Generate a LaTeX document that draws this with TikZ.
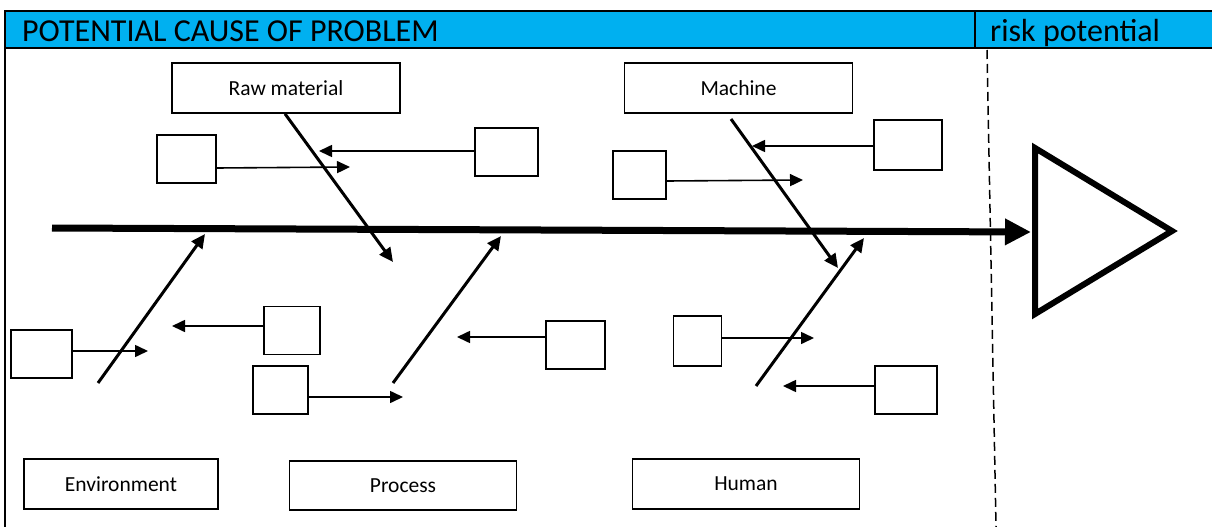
\documentclass[tikz,border=0pt]{standalone}
\usepackage{fontspec}
\setmainfont{Carlito}
\usetikzlibrary{arrows.meta}
\definecolor{hdr}{HTML}{00B0F0}
\begin{document}
\begin{tikzpicture}[x=1pt,y=-1pt,
  cat/.style={draw, line width=1.6pt, minimum width=228pt, minimum height=50pt, inner sep=0pt, font=\fontsize{21.5}{24}\selectfont},
  cause/.style={draw, line width=1.6pt, inner sep=0pt},
  sub/.style={line width=1.6pt, -{Triangle[length=13pt,width=12pt]}},
  bone/.style={line width=3pt, -{Triangle[length=14pt,width=13pt]}},
  htext/.style={anchor=base west, inner sep=0pt, font=\fontsize{32}{34}\selectfont}
]
\useasboundingbox (0,0) rectangle (1212,527);
% header
\fill[hdr] (5,11) rectangle (1212,48);
\draw[line width=2pt] (1212,11) -- (5,11) -- (5,527);
\draw[line width=2pt] (5,48) -- (1212,48);
\draw[line width=1.5pt] (975,11) -- (975,48);
\node[htext] (title) at (22,42) {POTENTIAL CAUSE OF PROBLEM};
\node[htext] (risk) at (990,42) {risk potential};
% dashed separator
\coordinate (dtop) at (987,50);
\coordinate (dbot) at (996,527);
\draw[line width=1.5pt, dash pattern=on 9pt off 5pt] (dtop) -- (dbot);
% category boxes
\node[cat] (raw) at (286,88) {Raw material};
\node[cat] (mach) at (738.5,88) {Machine};
\node[cat, minimum width=194pt] (env) at (121,484) {Environment};
\node[cat, minimum width=227pt, minimum height=49pt] (proc) at (403,485.5) {Process};
\node[cat, minimum width=227pt] (hum) at (746,484) {Human};
% spine and head
\coordinate (tail) at (52,228);
\coordinate (head) at (1031,232);
\draw[line width=7pt, -{Triangle[length=26pt,width=25pt]}] (tail) -- (head);
\draw[line width=6pt, line join=miter] (1035,148) -- (1172,231) -- (1035,314) -- cycle;
% bones
\coordinate (rawend) at (393,262);
\coordinate (machstart) at (731,119);
\coordinate (machend) at (838,268);
\coordinate (envstart) at (98,383);
\coordinate (envend) at (205,234);
\coordinate (procstart) at (393,383);
\coordinate (procend) at (501,236);
\coordinate (humstart) at (756,386);
\coordinate (humend) at (864,238);
\draw[bone] (raw.south -| 285,0) -- (rawend);
\draw[bone] (machstart) -- (machend);
\draw[bone] (envstart) -- (envend);
\draw[bone] (procstart) -- (procend);
\draw[bone] (humstart) -- (humend);
% cause boxes
\node[cause, minimum width=59pt, minimum height=48pt] (c1) at (186.5,159) {};
\node[cause, minimum width=63pt, minimum height=48pt] (c2) at (506.5,152) {};
\node[cause, minimum width=53pt, minimum height=48pt] (c3) at (639.5,175) {};
\node[cause, minimum width=68pt, minimum height=50pt] (c4) at (908,145) {};
\node[cause, minimum width=61pt, minimum height=48pt] (c5) at (41.5,354) {};
\node[cause, minimum width=56pt, minimum height=48pt] (c6) at (292,330.5) {};
\node[cause, minimum width=55pt, minimum height=48pt] (c7) at (280.5,390) {};
\node[cause, minimum width=59pt, minimum height=48pt] (c8) at (575.5,345) {};
\node[cause, minimum width=48pt, minimum height=50pt] (c9) at (697.5,341) {};
\node[cause, minimum width=62pt, minimum height=48pt] (c10) at (906,390) {};
% cause arrow tips
\coordinate (t1) at (350,167);
\coordinate (t2) at (319,151);
\coordinate (t3) at (803,180);
\coordinate (t4) at (752,146);
\coordinate (t5) at (148,351);
\coordinate (t6) at (172,326);
\coordinate (t7) at (403,397);
\coordinate (t8) at (457,337);
\coordinate (t9) at (814,338);
\coordinate (t10) at (783,386);
\draw[sub] (c1.east |- 0,168) -- (t1);
\draw[sub] (c2.west |- t2) -- (t2);
\draw[sub] (c3.east |- 0,181) -- (t3);
\draw[sub] (c4.west |- t4) -- (t4);
\draw[sub] (c5.east |- t5) -- (t5);
\draw[sub] (c6.west |- t6) -- (t6);
\draw[sub] (c7.east |- t7) -- (t7);
\draw[sub] (c8.west |- t8) -- (t8);
\draw[sub] (c9.east |- t9) -- (t9);
\draw[sub] (c10.west |- t10) -- (t10);
\end{tikzpicture}
\end{document}
